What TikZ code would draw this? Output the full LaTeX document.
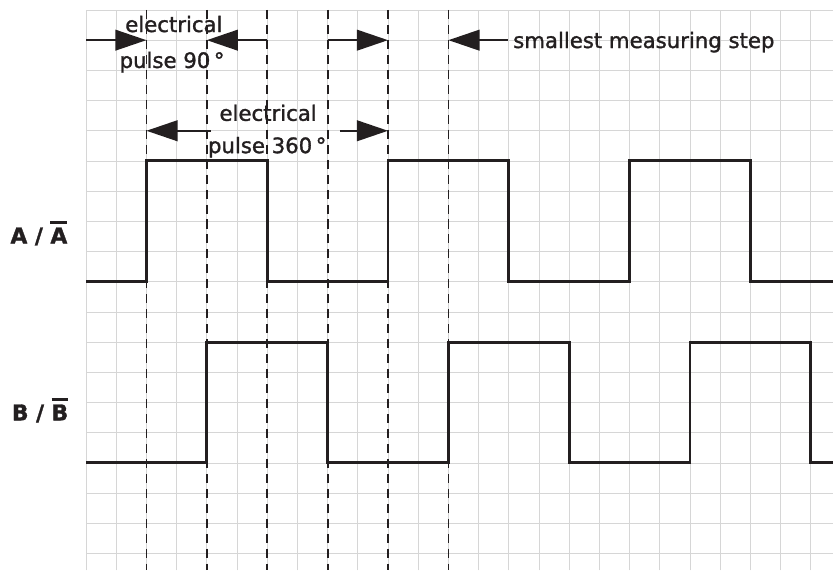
\documentclass[tikz,border=0pt]{standalone}
\usepackage{fontspec}
\setmainfont{DejaVu Sans}[RawFeature={embolden=1.4}]
\usetikzlibrary{arrows.meta}

\definecolor{gridgray}{HTML}{D6D6D6}
\definecolor{inkblack}{HTML}{231F20}

% bar over a signal name (inverted channel)
\newcommand{\invsig}[1]{\setbox0\hbox{#1}\rlap{\raisebox{\dimexpr\ht0+3.5pt}{\rule{\wd0}{2.2pt}}}\box0}

\tikzset{
	gridline/.style={gridgray,line width=0.8pt},
	signal/.style={inkblack,line width=2.8pt,line join=miter},
	marker/.style={inkblack,line width=1.7pt,dash pattern=on 8.5pt off 5.6pt},
	pulsearrow/.style={inkblack,line width=2.2pt,-{Triangle[length=1.03cm,width=0.68cm]}},
	lbl/.style={inkblack,inner sep=0pt,font=\fontsize{20}{24}\selectfont},
	chan/.style={inkblack,inner sep=0pt,font=\fontsize{20.5}{24}\selectfont\bfseries}
}

\begin{document}
\begin{tikzpicture}
		\useasboundingbox (-2.848,-0.91) rectangle (24.735,18.33);

		% grid
		\draw[gridline,step=1cm] (0,-0.56) grid (24.735,18);

		% phase markers
		\foreach \x in {2,4,...,12}
			\draw[marker] (\x,18) -- (\x,-0.56);

		% channel A
		\draw[signal] (0,9) -- (2,9) -- (2,13) -- (6,13) -- (6,9) -- (10,9) -- (10,13)
					-- (14,13) -- (14,9) -- (18,9) -- (18,13) -- (22,13) -- (22,9) -- (24.735,9);
		% channel B
		\draw[signal] (0,3) -- (4,3) -- (4,7) -- (8,7) -- (8,3) -- (12,3) -- (12,7)
					-- (16,7) -- (16,3) -- (20,3) -- (20,7) -- (24,7) -- (24,3) -- (24.735,3);

		% arrow ends
		\coordinate (q0) at (0,17);
		\coordinate (q2) at (2,17);
		\coordinate (q4) at (4,17);
		\coordinate (q6) at (6,17);
		\coordinate (q8) at (8,17);
		\coordinate (q10) at (10,17);
		\coordinate (q12) at (12,17);
		\coordinate (q14) at (13.97,17);
		\coordinate (p2) at (2,14);
		\coordinate (p4) at (4.14,14);
		\coordinate (p8) at (8.41,14);
		\coordinate (p10) at (10,14);

		\draw[pulsearrow] (q0) -- (q2);
		\draw[pulsearrow] (q6) -- (q4);
		\draw[pulsearrow] (q8) -- (q10);
		\draw[pulsearrow] (q14) -- (q12);
		\draw[pulsearrow] (p4) -- (p2);
		\draw[pulsearrow] (p8) -- (p10);

		% texts
		\node[lbl,anchor=base] (el90a) at (2.91,17.27) {electrical};
		\node[lbl,anchor=base] (el90b) at (2.85,16.08) {pulse 90\,°};
		\node[lbl,anchor=base] (el360a) at (6.03,14.33) {electrical};
		\node[lbl,anchor=base] (el360b) at (6.0,13.26) {pulse 360\,°};
		\node[lbl,anchor=base west] (smstep) at (14.14,16.74) {smallest measuring step};

		\node[chan] (chA) at (-1.56,10.6) {A / \invsig{A}};
		\node[chan] (chB) at (-1.52,4.74) {B / \invsig{B}};
\end{tikzpicture}
\end{document}
